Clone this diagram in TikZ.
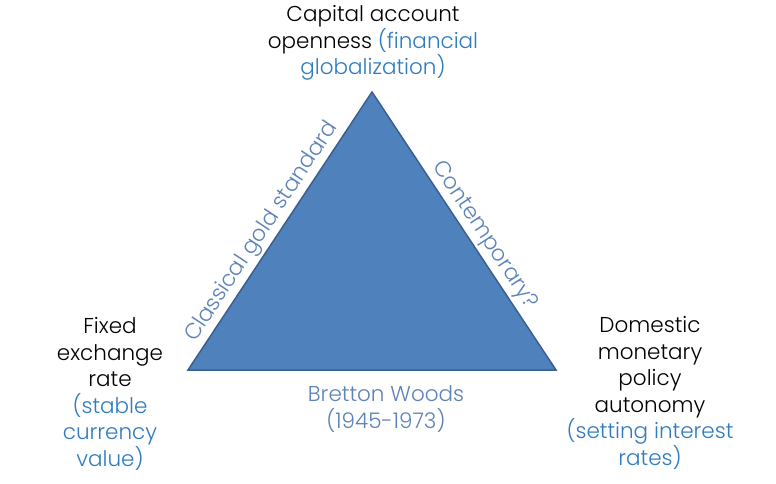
\documentclass[tikz,border=0pt]{standalone}
\usepackage{fontspec}
\usetikzlibrary{calc}
\setmainfont{Poppins}[UprightFont=* Light]
\definecolor{trifill}{HTML}{4F81BD}
\definecolor{triedge}{HTML}{3A5F8E}
\definecolor{paren}{HTML}{2E7BC0}
\definecolor{sidelab}{HTML}{5B82B8}
\begin{document}
\begin{tikzpicture}[x=1pt,y=-1pt,
  lab/.style={font=\fontsize{21.5}{26.5}\selectfont, align=center, inner sep=0pt, text=black, anchor=base},
  sidetxt/.style={font=\fontsize{22}{26.5}\selectfont, inner sep=0pt, text=sidelab, anchor=base}]
\useasboundingbox (0,0) rectangle (776,484);
\coordinate (T) at (372,92);
\coordinate (L) at (188,370);
\coordinate (R) at (556,370);
\filldraw[fill=trifill, draw=triedge, line width=1.5pt, line join=miter] (T) -- (L) -- (R) -- cycle;
\node[lab] (top) at (373,75) {Capital account\\openness \textcolor{paren}{(financial}\\\textcolor{paren}{globalization)}};
\node[lab] (left) at (110,466) {Fixed\\exchange\\rate\\\textcolor{paren}{(stable}\\\textcolor{paren}{currency}\\\textcolor{paren}{value)}};
\node[lab] (right) at (650,465) {Domestic\\monetary\\policy\\autonomy\\\textcolor{paren}{(setting interest}\\\textcolor{paren}{rates)}};
\node[lab, text=sidelab] (bottom) at (386,428) {Bretton Woods\\(1945-1973)};
\node[sidetxt, rotate=56.5] (gold) at (266.5,235) {Classical gold standard};
\node[sidetxt, rotate=-56.5] (cont) at (480,238) {Contemporary?};
\end{tikzpicture}
\end{document}
